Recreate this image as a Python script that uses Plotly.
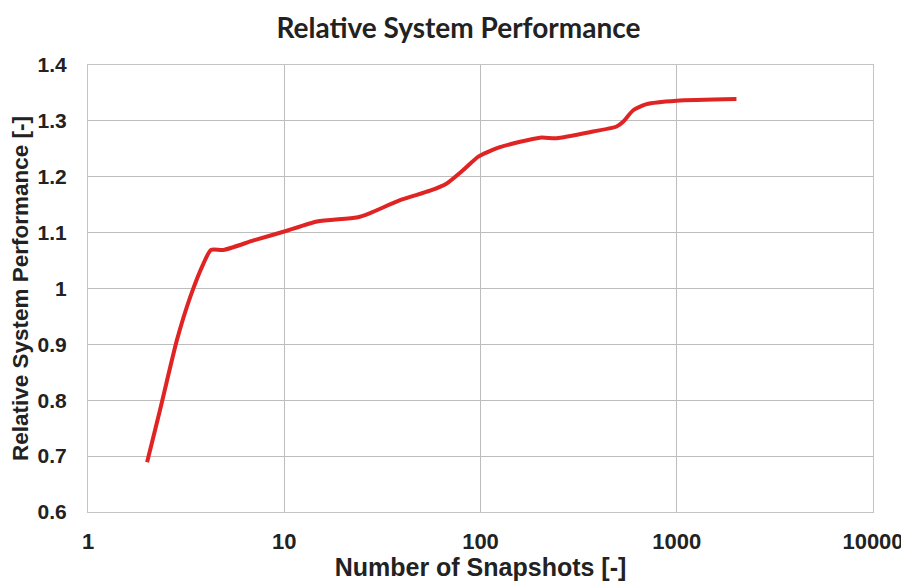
import plotly.graph_objects as go

snapshots = [2, 2.33, 2.84, 3.32, 3.88, 4.23, 4.9, 6.97, 10, 14.7, 23.4, 27.4, 38.9, 55.3, 67.3, 81.7, 97.5,
             125.7, 201, 244, 375, 494, 533, 600, 702, 1000, 2015]
performance = [0.689, 0.783, 0.908, 0.985, 1.045, 1.069, 1.069, 1.086, 1.102, 1.12, 1.127, 1.135, 1.158, 1.175,
               1.188, 1.212, 1.236, 1.253, 1.270, 1.269, 1.281, 1.290, 1.2985, 1.319, 1.330, 1.336, 1.339]

x_tickvals = [1, 10, 100, 1000, 10000]
x_ticktext = ["1", "10", "100", "1000", "10000"]
y_tickvals = [0.6, 0.7, 0.8, 0.9, 1.0, 1.1, 1.2, 1.3, 1.4]
y_ticktext = ["0.6", "0.7", "0.8", "0.9", "1", "1.1", "1.2", "1.3", "1.4"]

sans = "Liberation Sans, Arial, sans-serif"
ink = "#222222"

fig = go.Figure()
fig.add_trace(go.Scatter(
    x=snapshots, y=performance, mode="lines",
    line=dict(color="#e02424", width=4, shape="spline", smoothing=0.6),
    showlegend=False, hoverinfo="skip",
))

fig.update_layout(
    width=901, height=573,
    paper_bgcolor="white", plot_bgcolor="white",
    margin=dict(l=80, r=36, t=57, b=69, autoexpand=False),
    title=dict(text="<b>Relative System Performance</b>", x=0.5, xanchor="center",
               y=1 - 20 / 573, yanchor="middle",
               font=dict(family="Lato, Open Sans, sans-serif", size=28, color=ink)),
    xaxis=dict(type="log", range=[0, 4], tickvals=x_tickvals,
               ticktext=["<b>%s</b>" % t for t in x_ticktext],
               showgrid=True, gridcolor="#bdbdbd", gridwidth=1,
               showline=True, linecolor="#c4c4c4", linewidth=1, mirror=True,
               ticks="", tickfont=dict(family=sans, size=22, color=ink),
               ticklabelstandoff=10, zeroline=False, automargin=False,
               title=dict(text="<b>Number of Snapshots [-]</b>", standoff=2,
                          font=dict(family=sans, size=25, color=ink))),
    yaxis=dict(range=[0.6, 1.4], tickvals=y_tickvals,
               ticktext=["<b>%s</b>" % t for t in y_ticktext],
               showgrid=True, gridcolor="#bdbdbd", gridwidth=1,
               showline=True, linecolor="#c4c4c4", linewidth=1, mirror=True,
               ticks="", tickfont=dict(family=sans, size=21, color=ink),
               ticklabelstandoff=16, zeroline=False, automargin=False,
               title=dict(text="<b>Relative System Performance [-]</b>", standoff=2,
                          font=dict(family=sans, size=22.5, color=ink))),
)

fig.write_html("out.html")
